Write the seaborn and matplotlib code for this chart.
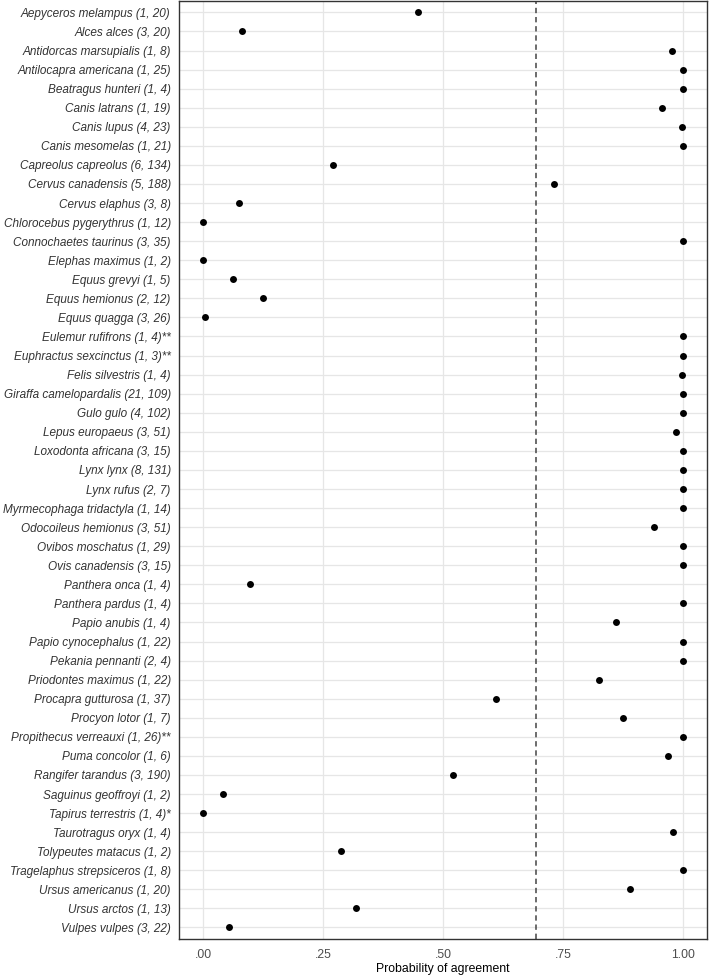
import numpy as np
import pandas as pd
import matplotlib
matplotlib.use("Agg")
import matplotlib.pyplot as plt
import seaborn as sns

species = [
    "Aepyceros melampus (1, 20)", "Alces alces (3, 20)", "Antidorcas marsupialis (1, 8)",
    "Antilocapra americana (1, 25)", "Beatragus hunteri (1, 4)", "Canis latrans (1, 19)",
    "Canis lupus (4, 23)", "Canis mesomelas (1, 21)", "Capreolus capreolus (6, 134)",
    "Cervus canadensis (5, 188)", "Cervus elaphus (3, 8)", "Chlorocebus pygerythrus (1, 12)",
    "Connochaetes taurinus (3, 35)", "Elephas maximus (1, 2)", "Equus grevyi (1, 5)",
    "Equus hemionus (2, 12)", "Equus quagga (3, 26)", "Eulemur rufifrons (1, 4)**",
    "Euphractus sexcinctus (1, 3)**", "Felis silvestris (1, 4)", "Giraffa camelopardalis (21, 109)",
    "Gulo gulo (4, 102)", "Lepus europaeus (3, 51)", "Loxodonta africana (3, 15)",
    "Lynx lynx (8, 131)", "Lynx rufus (2, 7)", "Myrmecophaga tridactyla (1, 14)",
    "Odocoileus hemionus (3, 51)", "Ovibos moschatus (1, 29)", "Ovis canadensis (3, 15)",
    "Panthera onca (1, 4)", "Panthera pardus (1, 4)", "Papio anubis (1, 4)",
    "Papio cynocephalus (1, 22)", "Pekania pennanti (2, 4)", "Priodontes maximus (1, 22)",
    "Procapra gutturosa (1, 37)", "Procyon lotor (1, 7)", "Propithecus verreauxi (1, 26)**",
    "Puma concolor (1, 6)", "Rangifer tarandus (3, 190)", "Saguinus geoffroyi (1, 2)",
    "Tapirus terrestris (1, 4)*", "Taurotragus oryx (1, 4)", "Tolypeutes matacus (1, 2)",
    "Tragelaphus strepsiceros (1, 8)", "Ursus americanus (1, 20)", "Ursus arctos (1, 13)",
    "Vulpes vulpes (3, 22)",
]

prob = [
    0.449, 0.081, 0.978, 1.0, 1.0, 0.956, 0.999, 1.0, 0.271, 0.732,
    0.074, -0.001, 1.0, 0.001, 0.062, 0.126, 0.005, 1.0, 1.0, 0.999,
    1.0, 1.0, 0.986, 1.0, 1.0, 1.0, 1.0, 0.940, 1.0, 1.0,
    0.098, 1.0, 0.860, 1.0, 1.0, 0.826, 0.610, 0.875, 1.0, 0.968,
    0.520, 0.041, 0.0, 0.980, 0.288, 1.0, 0.890, 0.318, 0.055,
]

threshold = 0.694
xticks = [0, 0.25, 0.5, 0.75, 1.0]
xticklabels = [".00", ".25", ".50", ".75", "1.00"]

df = pd.DataFrame({"species": species, "prob": prob})

sns.set_style("white")
plt.rcParams["font.family"] = ["Liberation Sans", "DejaVu Sans"]

fig, ax = plt.subplots(figsize=(7.09, 9.76), dpi=100)
fig.subplots_adjust(left=0.2525, right=0.997, top=0.999, bottom=0.038)

sns.stripplot(data=df, x="prob", y="species", order=species, jitter=False,
              color="black", size=5.0, linewidth=0, ax=ax, zorder=3)

ax.axvline(threshold, color="#444444", linestyle=(0, (3.5, 2.5)), linewidth=1.1, zorder=2)

ax.set_xlim(-0.05, 1.05)
ax.set_ylim(len(species) - 0.4, -0.6)
ax.set_xticks(xticks)
ax.set_xticklabels(xticklabels)
ax.set_yticks(range(len(species)))
ax.set_yticklabels(species, fontstyle="italic")

ax.grid(True, color="#E6E6E6", linewidth=0.9, zorder=0)
ax.set_axisbelow(True)
for s in ax.spines.values():
    s.set_color("#333333")
    s.set_linewidth(1.0)

ax.tick_params(axis="y", length=0, pad=6, labelsize=8.5, labelcolor="#333333")
ax.tick_params(axis="x", length=3, width=0.8, color="#333333", pad=4,
               labelsize=8.8, labelcolor="#4D4D4D")
ax.set_xlabel("Probability of agreement", fontsize=8.8, color="black", labelpad=2)
ax.set_ylabel("")

plt.savefig("out.png", dpi=100)
